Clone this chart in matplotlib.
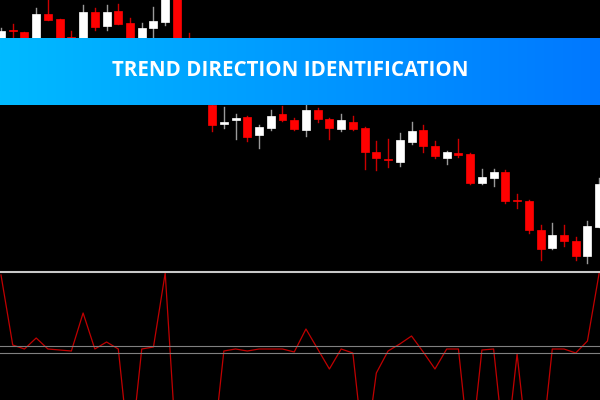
import matplotlib
matplotlib.use("Agg")
import matplotlib.pyplot as plt
import numpy as np
from matplotlib.colors import LinearSegmentedColormap

# candle data (price units = 270 - pixel row)
opens_y  = [45,31,32,45,14,19,37,45,12,26,11,23,45,28,22,-5,40,80,105,124,120,117,135,128,114,120,130,110,119,129,122,128,152,159,162,142,130,146,158,153,154,183,178,172,200,201,230,248,235,241,256,227]
closes_y = [31,31,45,14,20,45,45,12,27,12,24,45,28,21,-5,60,60,60,125,122,118,137,127,116,120,129,110,119,128,120,129,152,158,160,140,131,146,156,152,155,183,177,172,201,201,230,249,235,241,256,226,184]
highs_y  = [28,24,32,8,0,19,31,5,8,5,4,18,23,7,-5,-5,33,55,80,107,114,116,125,110,106,118,105,108,118,114,116,127,141,139,133,122,125,141,151,139,153,169,169,170,194,200,225,223,225,237,221,178]
lows_y   = [45,38,45,45,20,45,45,45,30,30,24,45,45,38,25,60,60,85,131,128,139,141,148,130,121,130,136,122,139,131,130,169,170,167,166,144,152,158,164,157,184,184,186,203,208,233,260,249,246,260,263,227]

# indicator (value = 400 - pixel row), 460 = below panel
ind_y = [275,345,349,338,349,350,351,313,349,342,349,460,349,347,273,460,460,460,460,351,349,351,349,349,349,352,329,349,369,349,353,460,373,351,344,336,352,369,349,349,460,350,349,460,354,460,460,349,349,353,341,273]
levels_y = [346, 353]

opens = 270 - np.array(opens_y); closes = 270 - np.array(closes_y)
highs = 270 - np.array(highs_y); lows = 270 - np.array(lows_y)
ind = 400 - np.array(ind_y)
levels = [400 - v for v in levels_y]
x = np.arange(len(opens))

fig = plt.figure(figsize=(6, 4), dpi=100, facecolor="black")
ax = fig.add_axes([0, 130/400, 1, 270/400], facecolor="black")
for i in x:
    up = closes[i] > opens[i]
    col = "white" if up else "#ff0000"
    wcol = "#9a9a9a" if up else "#cc0000"
    ax.plot([i, i], [lows[i], highs[i]], color=wcol, lw=1, zorder=1)
    lo, hi = min(opens[i], closes[i]), max(opens[i], closes[i])
    ax.bar(i, max(hi - lo, 1.2), bottom=lo, width=0.68, color=col, edgecolor=col, lw=0.5, zorder=2)
ax.set_xlim(-0.085, 51.07); ax.set_ylim(0, 270)
ax.axis("off")

ax2 = fig.add_axes([0, 0, 1, 128/400], facecolor="black")
ax2.plot(x, ind, color="#c00000", lw=0.9)
for l in levels:
    ax2.axhline(l, color="#808080", lw=0.8)
ax2.set_xlim(-0.085, 51.07); ax2.set_ylim(0, 128)
ax2.axis("off")
fig.add_artist(plt.Line2D([0, 1], [128/400, 128/400], color="#c8c8c8", lw=1.5))

bax = fig.add_axes([0, 1-105/400, 1, 67/400])
grad = np.linspace(0, 1, 256)[None, :]
cmap = LinearSegmentedColormap.from_list("b", ["#00baff", "#0078ff"])
bax.imshow(grad, aspect="auto", cmap=cmap, extent=[0, 1, 0, 1])
bax.axis("off")
bax.text(0.483, 0.52, "TREND DIRECTION IDENTIFICATION", color="white", ha="center", va="center",
         fontsize=14.8, fontweight="bold", family="Open Sans", transform=bax.transAxes)

fig.savefig("out.png", dpi=100, facecolor="black")
